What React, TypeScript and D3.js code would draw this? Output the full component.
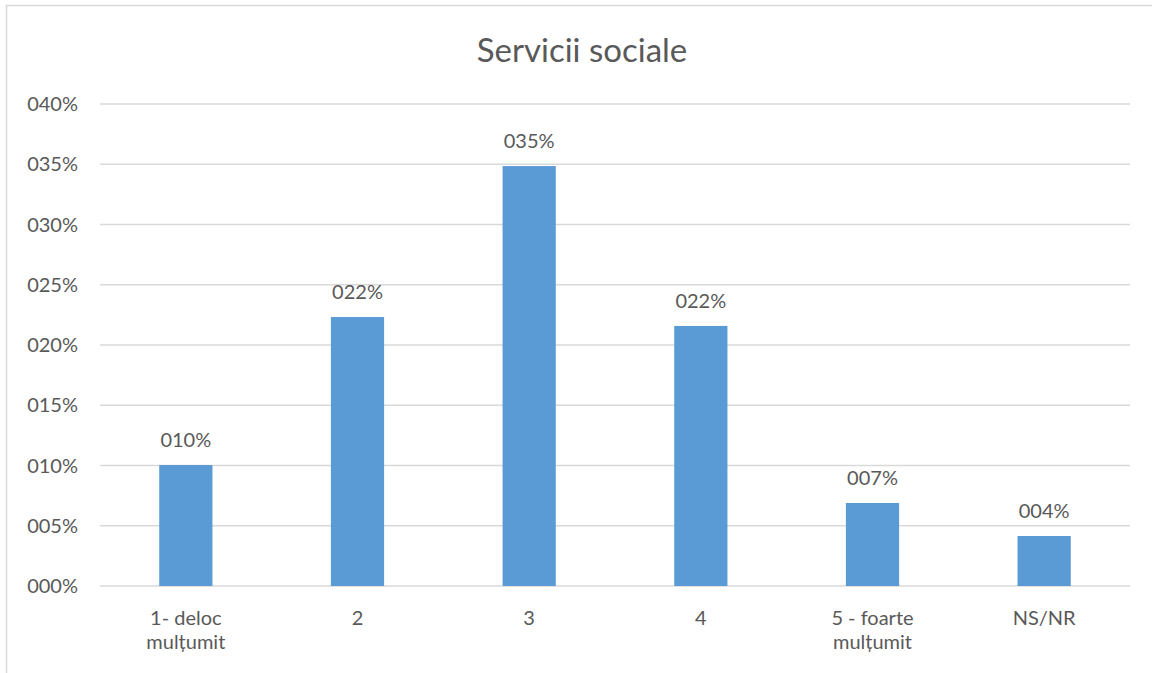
import React from "react";
import * as d3 from "d3";

const categories = ["1- deloc\nmulțumit", "2", "3", "4", "5 - foarte\nmulțumit", "NS/NR"];
const values = [0.1004, 0.2232, 0.3485, 0.2158, 0.0689, 0.0415];
const labels = ["010%", "022%", "035%", "022%", "007%", "004%"];
const yTicks = [0, 0.05, 0.1, 0.15, 0.2, 0.25, 0.3, 0.35, 0.4];
const yTickLabels = ["000%", "005%", "010%", "015%", "020%", "025%", "030%", "035%", "040%"];

export default function App() {
  const W = 1152, H = 673;
  const left = 100, right = 1130, top = 104, bottom = 586;
  const x = d3.scaleBand<number>().domain(d3.range(categories.length)).range([left, right]).paddingInner(0.69).paddingOuter(0.345);
  const y = d3.scaleLinear().domain([0, 0.4]).range([bottom, top]);
  const font = "Lato, 'Open Sans', sans-serif";
  const col = "#595959";
  return (
    <svg width={W} height={H} style={{ position: "absolute", left: 0, top: 0, background: "#fff" }} fontFamily={font}>
      <rect x={6.5} y={5.5} width={W} height={H} fill="#fff" stroke="#d9d9d9" strokeWidth={1.5} />
      <text x={582} y={62} textAnchor="middle" fontSize={33} fill={col}>Servicii sociale</text>
      {yTicks.map((t, i) => (
        <g key={i}>
          <line x1={left} x2={right} y1={y(t)} y2={y(t)} stroke="#d9d9d9" strokeWidth={1.3} />
          <text x={78} y={y(t) + 7} textAnchor="end" fontSize={20} fill={col}>{yTickLabels[i]}</text>
        </g>
      ))}
      {values.map((v, i) => (
        <g key={i}>
          <rect x={x(i)!} y={y(v)} width={x.bandwidth()} height={bottom - y(v)} fill="#5b9bd5" />
          <text x={x(i)! + x.bandwidth() / 2} y={y(v) - 18} textAnchor="middle" fontSize={20} fill={col}>{labels[i]}</text>
        </g>
      ))}
      {categories.map((c, i) => (
        <text key={i} x={x(i)! + x.bandwidth() / 2} y={625} textAnchor="middle" fontSize={20} fill={col}>
          {c.split("\n").map((ln, j) => (
            <tspan key={j} x={x(i)! + x.bandwidth() / 2} dy={j === 0 ? 0 : 24}>{ln}</tspan>
          ))}
        </text>
      ))}
    </svg>
  );
}
